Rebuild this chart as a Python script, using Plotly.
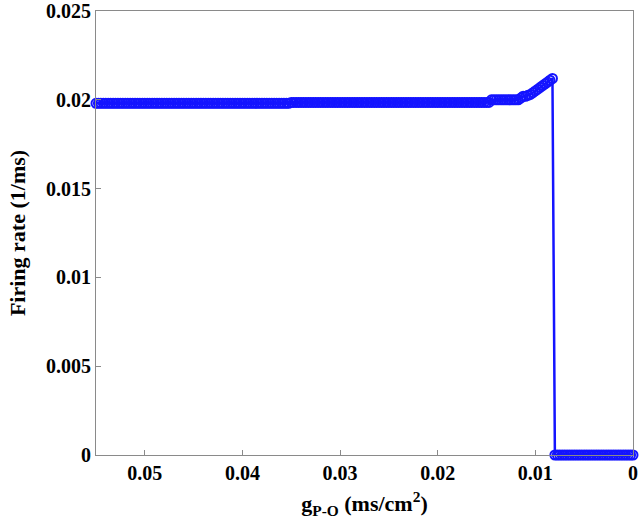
import plotly.graph_objects as go
import numpy as np

# conductance values (ms/cm^2), sampled every 0.00025 from 0.055 down to 0
g_po = np.round(np.arange(0.055, -0.000001, -0.00025), 5)

# firing rate (1/ms)
rate_high = [0.01980] * 80          # 0.055 .. 0.03525
rate_mid = [0.01985] * 82           # 0.035 .. 0.01475
rate_step = [0.0200] * 12           # 0.0145 .. 0.01175
rate_rise = [0.0201, 0.0202, 0.0202, 0.02025, 0.0203, 0.0204, 0.0205,
             0.0206, 0.0207, 0.0208, 0.0209, 0.0210, 0.0211, 0.0212]  # 0.0115 .. 0.00825
rate_zero = [0.0] * 33              # 0.008 .. 0
firing_rate = rate_high + rate_mid + rate_step + rate_rise + rate_zero

x_ticks = [0, 0.01, 0.02, 0.03, 0.04, 0.05]
x_labels = ['0', '0.01', '0.02', '0.03', '0.04', '0.05']
y_ticks = [0, 0.005, 0.01, 0.015, 0.02, 0.025]
y_labels = ['0', '0.005', '0.01', '0.015', '0.02', '0.025']

blue = '#1414ff'
fig = go.Figure()
fig.add_trace(go.Scatter(x=g_po[:len(firing_rate)],
                         y=firing_rate,
                         mode='lines+markers',
                         line=dict(color=blue, width=2.5),
                         marker=dict(symbol='circle-open', size=9,
                                     color=blue,
                                     line=dict(width=2, color=blue)),
                         cliponaxis=False))

tick_font = dict(family='Liberation Serif', size=20, color='black', weight='bold')
axis_style = dict(showgrid=False, zeroline=False, showline=True,
                  linecolor='#8a8a8a', linewidth=1, mirror=True,
                  ticks='inside', ticklen=5, tickcolor='#8a8a8a',
                  tickfont=tick_font, ticklabeloverflow='allow',
                  automargin=False)

fig.update_layout(width=644,
                  height=527,
                  plot_bgcolor='white',
                  paper_bgcolor='white',
                  showlegend=False,
                  margin=dict(l=96, r=11, t=11, b=72),
                  font=dict(family='Liberation Serif', color='black'))

fig.update_xaxes(range=[0.055, 0], tickvals=x_ticks, ticktext=x_labels,
                 title=dict(text='<b>g<sub>P-O</sub> (ms/cm<sup>2</sup>)</b>',
                            font=dict(family='Liberation Serif', size=22),
                            standoff=12),
                 **axis_style)
fig.update_yaxes(range=[0, 0.025], tickvals=y_ticks, ticktext=y_labels,
                 title=dict(text='<b>Firing rate (1/ms)</b>',
                            font=dict(family='Liberation Serif', size=22),
                            standoff=14),
                 **axis_style)

# drop the default body margin so the figure fills the window exactly
fig.write_html("out.html",
               config={'displayModeBar': False},
               post_script="document.body.style.margin='0';"
                           "document.body.style.overflow='hidden';")
